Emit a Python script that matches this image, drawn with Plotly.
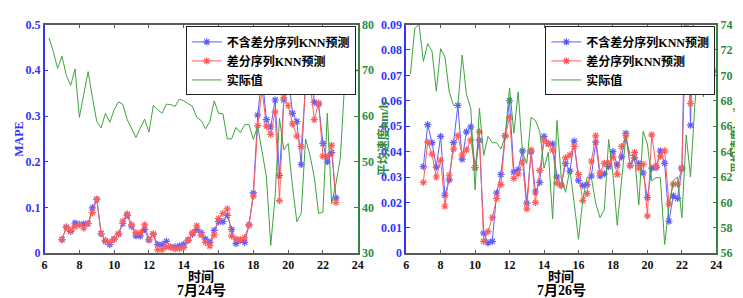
import numpy as np
import plotly.graph_objects as go
from plotly.subplots import make_subplots

# ---------------- data ----------------
t_pred = np.round(np.arange(7.0, 22.76, 0.25), 2)      # 64 forecast times (hours)
t_act = np.round(np.arange(6.25, 24.01, 0.25), 2)      # 72 measured times (hours)

# 7月24号
mape_plain_24 = [0.030, 0.057, 0.048, 0.066, 0.063, 0.064, 0.065, 0.099, 0.118, 0.043,
                 0.026, 0.019, 0.031, 0.042, 0.065, 0.083, 0.059, 0.038, 0.038, 0.052,
                 0.029, 0.042, 0.019, 0.019, 0.026, 0.014, 0.014, 0.016, 0.020, 0.029,
                 0.042, 0.052, 0.045, 0.031, 0.024, 0.050, 0.069, 0.069, 0.083, 0.052,
                 0.021, 0.028, 0.024, 0.062, 0.132, 0.302, 0.389, 0.292, 0.276, 0.335,
                 0.170, 0.335, 0.390, 0.306, 0.288, 0.194, 0.375, 0.440, 0.330, 0.326,
                 0.240, 0.200, 0.220, 0.121]
mape_diff_24 = [0.030, 0.057, 0.050, 0.058, 0.063, 0.055, 0.065, 0.089, 0.118, 0.043,
                0.028, 0.024, 0.031, 0.042, 0.070, 0.086, 0.062, 0.045, 0.045, 0.062,
                0.030, 0.042, 0.008, 0.008, 0.014, 0.013, 0.010, 0.010, 0.013, 0.028,
                0.045, 0.060, 0.040, 0.024, 0.016, 0.040, 0.076, 0.087, 0.097, 0.038,
                0.031, 0.030, 0.034, 0.062, 0.125, 0.279, 0.358, 0.278, 0.260, 0.309,
                0.115, 0.340, 0.323, 0.283, 0.256, 0.233, 0.361, 0.378, 0.292, 0.328,
                0.212, 0.212, 0.236, 0.111]
speed_24 = [77.1, 74.1, 70.4, 73.1, 68.9, 66.7, 70.3, 59.7, 64.7, 69.7,
            64.0, 58.8, 57.4, 60.6, 58.6, 61.4, 63.1, 62.5, 59.2, 57.4,
            55.3, 57.4, 59.3, 56.5, 62.3, 61.4, 60.6, 62.6, 62.5, 62.1,
            63.7, 63.3, 62.6, 62.1, 59.7, 59.0, 57.2, 58.8, 63.3, 60.6,
            60.5, 55.0, 55.0, 57.5, 56.4, 58.1, 58.1, 54.9, 57.8, 52.2,
            46.7, 31.7, 42.5, 59.5, 52.6, 54.0, 44.6, 36.9, 38.7, 55.0,
            51.5, 46.7, 38.7, 39.0, 60.6, 40.8, 45.3, 50.8, 67.5, 69.6,
            68.9, 70.3]

# 7月26号
mape_plain_26 = [0.0341, 0.0506, 0.0435, 0.0339, 0.0460, 0.0229, 0.0289, 0.0435, 0.0582, 0.0370,
                 0.0478, 0.0497, 0.0337, 0.0445, 0.0079, 0.0041, 0.0047, 0.0237, 0.0310, 0.0462,
                 0.0600, 0.0320, 0.0329, 0.0403, 0.0197, 0.0399, 0.0241, 0.0279, 0.0460, 0.0432,
                 0.0430, 0.0300, 0.0266, 0.0354, 0.0323, 0.0441, 0.0287, 0.0266, 0.0270, 0.0304,
                 0.0437, 0.0304, 0.0312, 0.0341, 0.0400, 0.0347, 0.0379, 0.0472, 0.0345, 0.0375,
                 0.0354, 0.0316, 0.0219, 0.0335, 0.0337, 0.0403, 0.0354, 0.0126, 0.0226, 0.0216,
                 0.0332, 0.1200, 0.0504, 0.1200]
mape_diff_26 = [0.0279, 0.0437, 0.0390, 0.0300, 0.0366, 0.0185, 0.0307, 0.0410, 0.0463, 0.0387,
                0.0407, 0.0445, 0.0337, 0.0478, 0.0047, 0.0085, 0.0141, 0.0216, 0.0270, 0.0462,
                0.0535, 0.0295, 0.0312, 0.0360, 0.0175, 0.0406, 0.0200, 0.0326, 0.0445, 0.0430,
                0.0406, 0.0276, 0.0268, 0.0375, 0.0387, 0.0420, 0.0310, 0.0207, 0.0235, 0.0362,
                0.0462, 0.0316, 0.0354, 0.0354, 0.0379, 0.0310, 0.0420, 0.0462, 0.0345, 0.0397,
                0.0335, 0.0350, 0.0147, 0.0466, 0.0343, 0.0382, 0.0403, 0.0194, 0.0272, 0.0272,
                0.0337, 0.0930, 0.0589, 0.1100]
speed_26 = [70.1, 73.7, 74.0, 71.1, 72.5, 71.9, 68.75, 72.1, 71.45, 68.7,
            67.65, 67.6, 71.6, 68.5, 67.4, 61.0, 67.4, 63.7, 65.2, 64.7,
            64.7, 64.2, 65.2, 69.0, 65.45, 68.7, 63.95, 63.07, 66.7, 66.45,
            65.6, 62.7, 63.95, 58.7, 66.45, 61.9, 60.8, 62.6, 59.95, 57.1,
            60.2, 61.95, 61.95, 59.95, 58.8, 59.45, 64.95, 62.2, 58.2, 61.45,
            65.2, 63.7, 63.7, 59.8, 65.6, 64.6, 61.7, 61.95, 61.95, 56.7,
            59.7, 61.7, 62.0, 58.8, 65.3, 62.0, 67.7, 71.2, 68.3, 70.45,
            69.3, 70.6]

names = ["不含差分序列KNN预测", "差分序列KNN预测", "实际值"]
x_ticks = [6, 8, 10, 12, 14, 16, 18, 20, 22, 24]
date_labels = ["7月24号", "7月26号"]

# ---------------- style ----------------
FONT = "Liberation Serif, Noto Sans CJK SC, serif"
BLUE_M = "#0000ff"
BLUE_L = "#5c5cff"
RED_M = "#ff0000"
RED_L = "#ff5c5c"
GREEN = "#3fa33f"
AX_BLUE = "#3333ff"
AX_GREEN = "#2e8b3e"
GRAY = "#5a5a5a"

fig = make_subplots(rows=1, cols=2, specs=[[{"secondary_y": True}, {"secondary_y": True}]])

panels = [
    (mape_plain_24, mape_diff_24, speed_24, "legend"),
    (mape_plain_26, mape_diff_26, speed_26, "legend2"),
]
for i, (bp, rd, sp, lg) in enumerate(panels):
    col = i + 1
    fig.add_trace(go.Scatter(x=t_pred, y=bp, name=names[0], mode="lines+markers",
                             line=dict(color=BLUE_L, width=1),
                             marker=dict(symbol="asterisk-open", size=6,
                                         line=dict(color=BLUE_M, width=1.2)),
                             legend=lg),
                  row=1, col=col, secondary_y=False)
    fig.add_trace(go.Scatter(x=t_pred, y=rd, name=names[1], mode="lines+markers",
                             line=dict(color=RED_L, width=1),
                             marker=dict(symbol="asterisk-open", size=6,
                                         line=dict(color=RED_M, width=1.2)),
                             legend=lg),
                  row=1, col=col, secondary_y=False)
    fig.add_trace(go.Scatter(x=t_act, y=sp, name=names[2], mode="lines",
                             line=dict(color=GREEN, width=1), legend=lg),
                  row=1, col=col, secondary_y=True)

W, H = 743, 298
def px(x):
    return x / W
def py(y):
    return 1 - y / H

dom_x = [[px(34), px(351)], [px(400), px(714)]]
dom_y = [py(250), py(10)]

tickfont_blue = dict(family=FONT, size=12, color=AX_BLUE, weight="bold")
tickfont_green = dict(family=FONT, size=12, color=AX_GREEN, weight="bold")
tickfont_black = dict(family=FONT, size=12, color="#111111", weight="bold")

fig.update_layout(
    width=W, height=H,
    margin=dict(l=0, r=0, t=0, b=0),
    paper_bgcolor="white", plot_bgcolor="white",
    showlegend=True,
    font=dict(family=FONT, size=12, color="black"),
)

x_common = dict(range=[6, 24], tickvals=x_ticks, showline=True, linecolor=GRAY, linewidth=1.5,
                mirror="ticks", ticks="inside", ticklen=4, tickcolor=GRAY,
                showgrid=False, zeroline=False, tickfont=tickfont_black)
fig.update_layout(
    xaxis=dict(domain=dom_x[0], **x_common),
    xaxis2=dict(domain=dom_x[1], **x_common),
    yaxis=dict(domain=dom_y, range=[0, 0.5], dtick=0.1, showline=True, linecolor=AX_BLUE,
               linewidth=1.5, ticks="inside", ticklen=4, tickcolor=AX_BLUE, showgrid=False,
               zeroline=False, tickfont=tickfont_blue),
    yaxis2=dict(domain=dom_y, range=[30, 80], dtick=10, showline=True, linecolor=AX_GREEN,
                linewidth=1.5, ticks="inside", ticklen=4, tickcolor=AX_GREEN, showgrid=False,
                zeroline=False, tickfont=tickfont_green, side="right", overlaying="y",
                anchor="x"),
    yaxis3=dict(domain=dom_y, range=[0, 0.09], dtick=0.01, showline=True, linecolor=AX_BLUE,
                linewidth=1.5, ticks="inside", ticklen=4, tickcolor=AX_BLUE, showgrid=False,
                zeroline=False, tickfont=tickfont_blue, anchor="x2"),
    yaxis4=dict(domain=dom_y, range=[56, 74], dtick=2, showline=True, linecolor=AX_GREEN,
                linewidth=1.5, ticks="inside", ticklen=4, tickcolor=AX_GREEN, showgrid=False,
                zeroline=False, tickfont=tickfont_green, side="right", overlaying="y3",
                anchor="x2"),
)

leg_common = dict(bgcolor="white", bordercolor="#222222", borderwidth=1,
                  font=dict(family=FONT, size=12, color="black", weight="bold"),
                  xanchor="right", yanchor="top", tracegroupgap=0, itemwidth=30,
                  traceorder="normal")
fig.update_layout(
    legend=dict(x=px(349), y=py(12), **leg_common),
    legend2=dict(x=px(713), y=py(12), **leg_common),
)

ann = []
for i in range(2):
    cx = (dom_x[i][0] + dom_x[i][1]) / 2
    ann.append(dict(text="时间", x=cx, y=py(274), xref="paper", yref="paper",
                    xanchor="center", yanchor="middle", showarrow=False,
                    font=dict(family=FONT, size=13, color="black", weight="bold")))
    ann.append(dict(text=date_labels[i], x=cx, y=py(289), xref="paper", yref="paper",
                    xanchor="center", yanchor="middle", showarrow=False,
                    font=dict(family=FONT, size=14, color="black", weight="bold")))
ann.append(dict(text="MAPE", x=px(8), y=py(130), xref="paper", yref="paper", textangle=-90,
                xanchor="center", yanchor="middle", showarrow=False, borderpad=0,
                font=dict(family=FONT, size=12, color=AX_BLUE, weight="bold")))
ann.append(dict(text="平均速度km/h", x=px(377), y=py(130), xref="paper", yref="paper", textangle=-90,
                xanchor="center", yanchor="middle", showarrow=False, borderpad=0,
                font=dict(family=FONT, size=12, color=AX_GREEN, weight="bold")))
ann.append(dict(text="平均速度km/h", x=px(734), y=py(130), xref="paper", yref="paper", textangle=-90,
                xanchor="center", yanchor="middle", showarrow=False, borderpad=0,
                font=dict(family=FONT, size=11, color=AX_GREEN, weight="bold")))
fig.update_layout(annotations=ann)

fig.write_html("out.html")
